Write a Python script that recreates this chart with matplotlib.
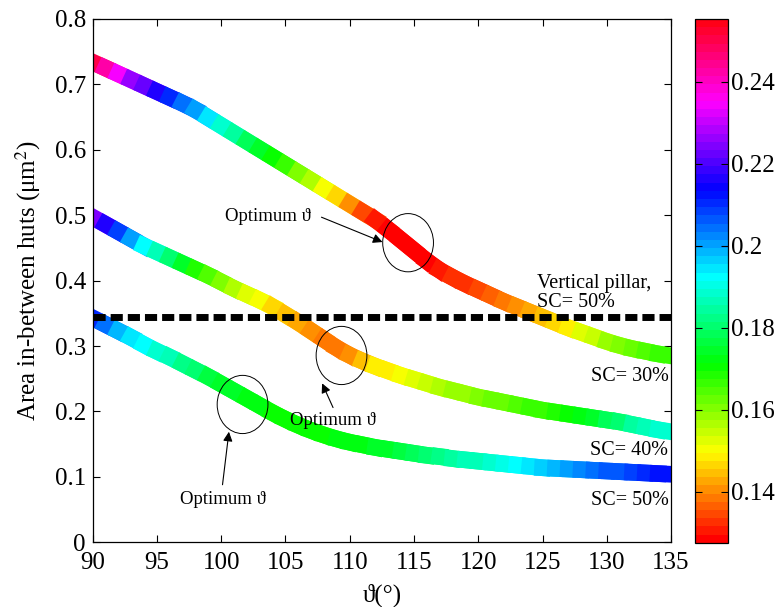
import numpy as np
import matplotlib
matplotlib.use("Agg")
import matplotlib.pyplot as plt
from matplotlib.collections import LineCollection
from matplotlib.patches import Ellipse
from matplotlib.colors import Normalize
import matplotlib.cm as cm

plt.rcParams['font.family'] = ['Liberation Serif', 'DejaVu Serif']
plt.rcParams['mathtext.fontset'] = 'stix'

# ---- data ----
theta = list(range(90, 136))  # degrees

area_sc30 = [0.734, 0.725, 0.716, 0.707, 0.698, 0.689, 0.680, 0.671, 0.661, 0.649,
             0.637, 0.625, 0.613, 0.601, 0.589, 0.577, 0.565, 0.553, 0.541, 0.529,
             0.517, 0.505, 0.493, 0.478, 0.462, 0.446, 0.430, 0.416, 0.405, 0.395,
             0.386, 0.377, 0.368, 0.360, 0.352, 0.344, 0.336, 0.328, 0.321, 0.314,
             0.307, 0.301, 0.296, 0.292, 0.288, 0.285]
color_sc30 = [0.255, 0.246, 0.237, 0.230, 0.224, 0.219, 0.214, 0.208, 0.202, 0.197,
              0.191, 0.186, 0.181, 0.176, 0.172, 0.168, 0.164, 0.159, 0.154, 0.149,
              0.143, 0.137, 0.132, 0.130, 0.129, 0.129, 0.129, 0.130, 0.131, 0.133,
              0.134, 0.135, 0.137, 0.139, 0.141, 0.143, 0.145, 0.148, 0.151, 0.154,
              0.157, 0.159, 0.161, 0.164, 0.166, 0.168]

area_sc40 = [0.497, 0.486, 0.475, 0.464, 0.453, 0.444, 0.435, 0.426, 0.417, 0.408,
             0.398, 0.388, 0.379, 0.370, 0.360, 0.348, 0.336, 0.323, 0.310, 0.297,
             0.286, 0.277, 0.269, 0.262, 0.255, 0.249, 0.243, 0.237, 0.232, 0.227,
             0.222, 0.218, 0.214, 0.210, 0.206, 0.202, 0.199, 0.196, 0.193, 0.190,
             0.187, 0.184, 0.180, 0.176, 0.172, 0.169]
color_sc40 = [0.228, 0.220, 0.212, 0.204, 0.196, 0.189, 0.183, 0.177, 0.171, 0.166,
              0.162, 0.158, 0.155, 0.152, 0.149, 0.146, 0.143, 0.141, 0.139, 0.138,
              0.139, 0.143, 0.147, 0.149, 0.150, 0.152, 0.154, 0.156, 0.158, 0.159,
              0.160, 0.162, 0.163, 0.164, 0.165, 0.167, 0.168, 0.170, 0.172, 0.174,
              0.176, 0.179, 0.182, 0.185, 0.188, 0.190]

area_sc50 = [0.343, 0.333, 0.323, 0.313, 0.302, 0.292, 0.283, 0.273, 0.263, 0.253,
             0.242, 0.231, 0.220, 0.209, 0.198, 0.188, 0.179, 0.171, 0.164, 0.158,
             0.153, 0.149, 0.145, 0.142, 0.139, 0.136, 0.133, 0.131, 0.128, 0.126,
             0.124, 0.122, 0.120, 0.118, 0.116, 0.114, 0.113, 0.112, 0.111, 0.110,
             0.109, 0.108, 0.107, 0.106, 0.105, 0.104]
color_sc50 = [0.213, 0.207, 0.201, 0.197, 0.193, 0.190, 0.187, 0.184, 0.181, 0.178,
              0.176, 0.174, 0.173, 0.172, 0.171, 0.171, 0.171, 0.171, 0.171, 0.171,
              0.172, 0.172, 0.173, 0.174, 0.175, 0.177, 0.179, 0.181, 0.183, 0.185,
              0.186, 0.188, 0.190, 0.192, 0.194, 0.196, 0.198, 0.200, 0.201, 0.203,
              0.205, 0.206, 0.208, 0.210, 0.211, 0.213]

vertical_pillar_area = 0.345
cbar_min, cbar_max = 0.1276, 0.2553
cbar_ticks = [0.14, 0.16, 0.18, 0.20, 0.22, 0.24]
cbar_ticklabels = ['0.14', '0.16', '0.18', '0.2', '0.22', '0.24']
xticks = [90, 95, 100, 105, 110, 115, 120, 125, 130, 135]
yticks = [0, 0.1, 0.2, 0.3, 0.4, 0.5, 0.6, 0.7, 0.8]
yticklabels = ['0', '0.1', '0.2', '0.3', '0.4', '0.5', '0.6', '0.7', '0.8']

# optimum markers: (theta, area)
optima = [(114.54, 0.458), (109.36, 0.2856), (101.66, 0.2107)]

# ---- figure ----
fig = plt.figure(figsize=(7.83, 6.07), dpi=100)
ax = fig.add_axes([0.1184, 0.1066, 0.7386, 0.8621])
cax = fig.add_axes([0.8876, 0.1059, 0.0425, 0.8628])

cmap = plt.get_cmap('hsv', 64)
norm = Normalize(vmin=cbar_min, vmax=cbar_max)

for area, col in [(area_sc30, color_sc30), (area_sc40, color_sc40), (area_sc50, color_sc50)]:
    x = np.array(theta, dtype=float)
    y = np.array(area, dtype=float)
    c = np.array(col, dtype=float)
    pts = np.column_stack([x, y]).reshape(-1, 1, 2)
    segs = np.concatenate([pts[:-1], pts[1:]], axis=1)
    seg_c = 0.5 * (c[:-1] + c[1:])
    lc = LineCollection(segs, cmap=cmap, norm=norm, linewidths=12,
                        capstyle='projecting', zorder=2)
    lc.set_array(seg_c)
    ax.add_collection(lc)

ax.axhline(vertical_pillar_area, color='black', lw=5,
           linestyle=(0, (1.75, 0.72)), zorder=3)

for (ox, oy) in optima:
    ax.add_patch(Ellipse((ox, oy), 3.95, 0.089, fill=False, ec='black', lw=0.7, zorder=4))

arrow_kw = dict(arrowstyle='-|>', color='black', lw=0.8, mutation_scale=14,
                shrinkA=0, shrinkB=0)
ax.text(103.6, 0.498, 'Optimum ϑ', fontsize=13.5, ha='center', va='center')
ax.annotate('', xy=(112.55, 0.459), xytext=(107.8, 0.497), arrowprops=arrow_kw)
ax.text(108.7, 0.186, 'Optimum ϑ', fontsize=13.5, ha='center', va='center')
ax.annotate('', xy=(107.85, 0.243), xytext=(108.7, 0.206), arrowprops=arrow_kw)
ax.text(100.1, 0.066, 'Optimum ϑ', fontsize=13.5, ha='center', va='center')
ax.annotate('', xy=(100.6, 0.169), xytext=(100.1, 0.088), arrowprops=arrow_kw)

ax.text(124.6, 0.381, 'Vertical pillar,\nSC= 50%', fontsize=14.5, ha='left', va='center',
        linespacing=1.0)
ax.text(134.8, 0.254, 'SC= 30%', fontsize=14.5, ha='right', va='center')
ax.text(134.8, 0.141, 'SC= 40%', fontsize=14.5, ha='right', va='center')
ax.text(134.8, 0.064, 'SC= 50%', fontsize=14.5, ha='right', va='center')

ax.set_xlim(90, 135)
ax.set_ylim(0, 0.8)
ax.set_xticks(xticks)
ax.set_xticklabels([str(t) for t in xticks])
ax.set_yticks(yticks)
ax.set_yticklabels(yticklabels)
ax.tick_params(direction='in', top=True, right=True, length=5, width=0.8,
               labelsize=18)
ax.tick_params(axis='x', pad=7)
ax.tick_params(axis='y', pad=5)
for s in ax.spines.values():
    s.set_linewidth(0.9)
ax.set_xlabel('ϑ(°)', fontsize=18, labelpad=7)
ax.set_ylabel('Area in-between huts (μm$^2$)', fontsize=18, labelpad=8)

sm = cm.ScalarMappable(norm=norm, cmap=cmap)
cb = fig.colorbar(sm, cax=cax, ticks=cbar_ticks)
cb.ax.set_yticklabels(cbar_ticklabels)
cb.ax.tick_params(direction='in', length=5, width=0.8, labelsize=18, pad=2, left=True)
cb.outline.set_linewidth(0.9)

fig.savefig('out.png', dpi=100)
